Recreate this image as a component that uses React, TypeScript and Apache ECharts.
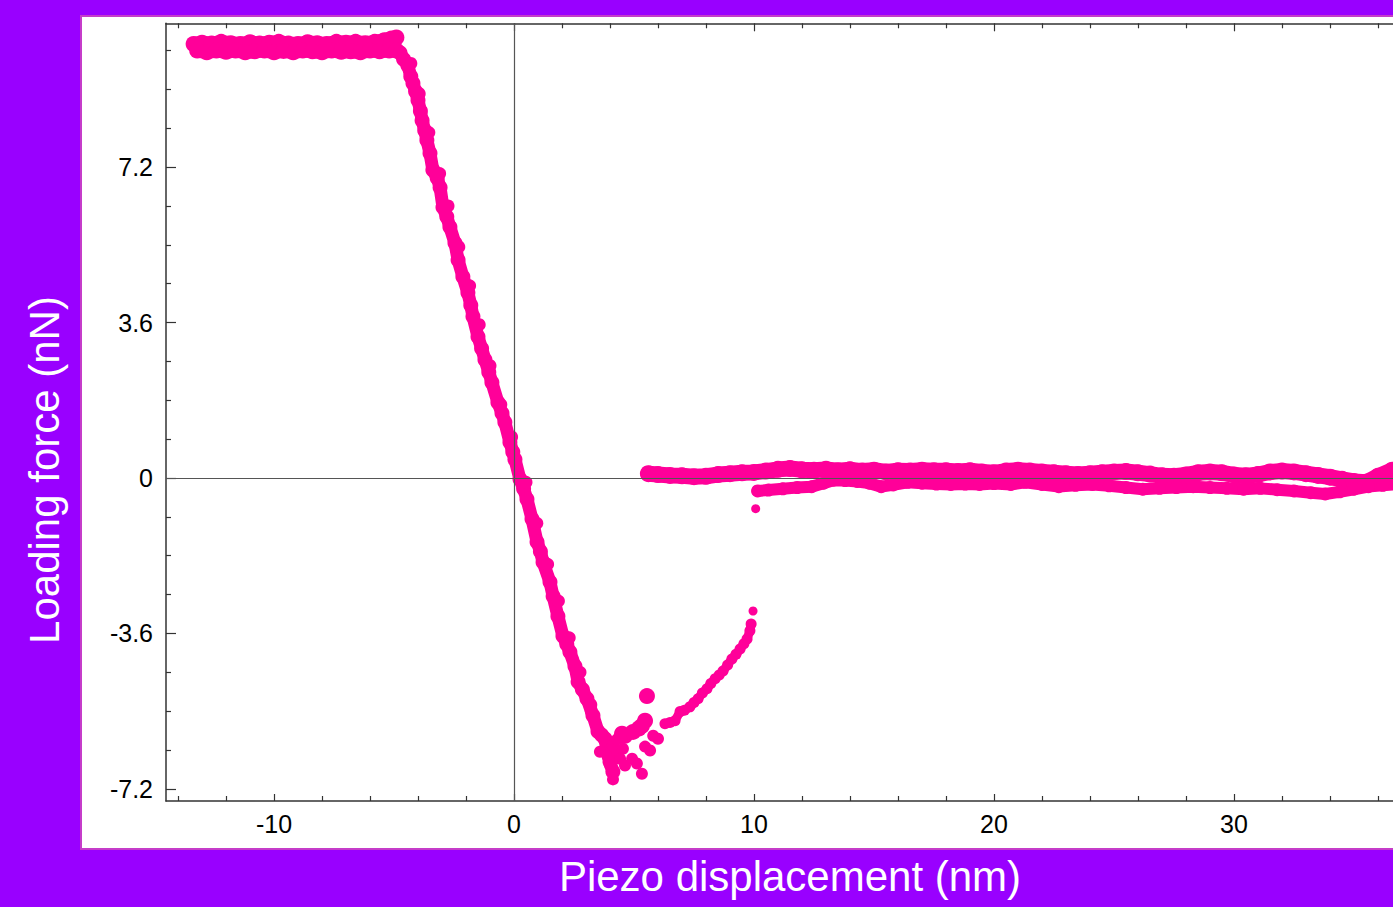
import React, { useEffect, useRef } from "react";
import * as echarts from "echarts";

// ---- axis ticks / labels ----
const xLabelValues = [-10, 0, 10, 20, 30];
const xMinorTicks = [-14, -12, -8, -6, -4, -2, 2, 4, 6, 8, 12, 14, 16, 18, 22, 24, 26, 28, 32, 34, 36];
const yLabelValues = [-7.2, -3.6, 0, 3.6, 7.2];
const yMinorTicks = [-6.3, -5.4, -4.5, -2.7, -1.8, -0.9, 0.9, 1.8, 2.7, 4.5, 5.4, 6.3, 8.1, 9.0, 9.9];

// ---- data (piezo displacement nm, loading force nN) ----
const flatUpper = [
  [-13.35, 10.05], [-13.0, 10.08], [-12.6, 10.06], [-12.2, 10.1], [-11.8, 10.07], [-11.4, 10.05],
  [-11.0, 10.09], [-10.6, 10.06], [-10.2, 10.08], [-9.8, 10.1], [-9.4, 10.06], [-9.0, 10.05],
  [-8.6, 10.09], [-8.2, 10.07], [-7.8, 10.05], [-7.4, 10.1], [-7.0, 10.08], [-6.6, 10.1],
  [-6.2, 10.07], [-5.8, 10.1], [-5.4, 10.14], [-5.1, 10.18], [-4.9, 10.2],
];
const flatLower = [
  [-13.2, 9.9], [-12.8, 9.86], [-12.4, 9.9], [-12.0, 9.87], [-11.6, 9.9], [-11.2, 9.86],
  [-10.8, 9.88], [-10.4, 9.9], [-10.0, 9.86], [-9.6, 9.89], [-9.2, 9.86], [-8.8, 9.9],
  [-8.4, 9.88], [-8.0, 9.86], [-7.6, 9.9], [-7.2, 9.87], [-6.8, 9.88], [-6.4, 9.86],
  [-6.0, 9.9], [-5.6, 9.88], [-5.2, 9.9], [-4.9, 9.9],
];
const descent = [
  [-4.75, 9.85], [-4.6, 9.7], [-4.42, 9.55], [-4.3, 9.3], [-4.21, 9.14], [-4.1, 8.95], [-4.0, 8.75],
  [-3.9, 8.5], [-3.83, 8.28], [-3.72, 8.05], [-3.63, 7.82], [-3.5, 7.52], [-3.38, 7.13], [-3.2, 6.95],
  [-3.08, 6.73], [-2.96, 6.27], [-2.8, 6.05], [-2.67, 5.81], [-2.46, 5.44], [-2.33, 5.05], [-2.13, 4.66],
  [-1.92, 4.29], [-1.8, 4.0], [-1.71, 3.74], [-1.5, 3.27], [-1.35, 3.0], [-1.21, 2.74], [-1.05, 2.45],
  [-0.92, 2.21], [-0.67, 1.75], [-0.5, 1.5], [-0.38, 1.29], [-0.17, 0.83], [-0.05, 0.6], [0.04, 0.43],
  [0.25, -0.03], [0.4, -0.25], [0.54, -0.49], [0.75, -0.95], [0.96, -1.48], [1.1, -1.7], [1.21, -1.95],
  [1.5, -2.41], [1.63, -2.74], [1.83, -3.2], [2.04, -3.66], [2.2, -3.85], [2.33, -4.03], [2.54, -4.36],
  [2.67, -4.72], [2.85, -4.9], [3.04, -5.11], [3.29, -5.5], [3.5, -5.87], [3.65, -5.95], [3.79, -6.04],
  [3.88, -6.34], [4.0, -6.57], [4.12, -6.8],
];
// scattered points along the descent that widen the band
const descentEdge = [
  [-4.3, 9.6], [-3.95, 8.9], [-3.55, 8.0], [-3.1, 7.05], [-2.75, 6.3], [-2.3, 5.35], [-1.85, 4.45],
  [-1.45, 3.55], [-1.0, 2.6], [-0.55, 1.7], [-0.1, 0.95], [0.5, -0.1], [0.95, -1.05], [1.4, -2.0],
  [1.85, -2.85], [2.3, -3.7], [2.75, -4.5], [3.2, -5.25],
];
const minCluster = [
  [3.58, -6.34], [3.9, -6.45], [4.0, -6.66], [4.125, -6.98], [4.29, -6.31], [4.42, -6.5], [4.54, -6.27],
  [4.625, -6.66], [4.92, -6.5], [5.12, -6.61], [5.33, -6.85], [5.46, -6.22], [5.67, -6.31], [4.1, -6.2],
  [4.3, -6.05], [5.8, -5.97], [6.0, -6.04], [3.2, -5.4], [2.9, -4.95], [2.45, -4.2],
];
const retractStart = [[4.5, -5.92], [4.625, -5.97], [4.96, -5.88], [5.2, -5.8], [5.33, -5.74], [5.46, -5.62]];
const retract = [
  [6.29, -5.69], [6.5, -5.66], [6.71, -5.62], [6.92, -5.41], [7.1, -5.38], [7.33, -5.3], [7.5, -5.2],
  [7.67, -5.11], [7.85, -4.98], [8.04, -4.88], [8.2, -4.76], [8.38, -4.65], [8.55, -4.56], [8.71, -4.47],
  [8.9, -4.33], [9.08, -4.19], [9.25, -4.08], [9.42, -3.96], [9.58, -3.84], [9.71, -3.73], [9.83, -3.54],
  [9.88, -3.38],
];
const isolatedSmall = [[9.96, -3.08], [10.07, -0.71]];
const isolatedBig = [[5.54, -5.05]];
const baselineUpper = [
  [5.6, 0.1], [6.0, 0.08], [6.5, 0.06], [7.0, 0.05], [7.5, 0.03], [8.0, 0.04], [8.5, 0.08], [9.0, 0.1],
  [9.5, 0.12], [10.0, 0.13], [10.5, 0.16], [11.0, 0.2], [11.5, 0.22], [12.0, 0.19], [12.5, 0.18],
  [13.0, 0.2], [13.5, 0.17], [14.0, 0.19], [14.5, 0.16], [15, 0.18], [15.5, 0.14], [16, 0.17],
  [16.5, 0.16], [17, 0.18], [17.5, 0.17], [18, 0.17], [18.5, 0.15], [19, 0.17], [19.5, 0.14],
  [20, 0.12], [20.5, 0.16], [21, 0.18], [21.5, 0.16], [22, 0.14], [22.5, 0.12], [23, 0.1], [23.5, 0.08],
  [24, 0.1], [24.5, 0.12], [25, 0.14], [25.5, 0.15], [26, 0.12], [26.5, 0.09], [27, 0.05], [27.5, 0.04],
  [28, 0.07], [28.5, 0.12], [29, 0.14], [29.5, 0.12], [30, 0.07], [30.5, 0.05], [31, 0.08], [31.5, 0.14],
  [32, 0.16], [32.5, 0.14], [33, 0.1], [33.5, 0.06], [34, 0.02], [34.5, -0.03], [35, -0.08],
  [35.5, -0.1], [36, 0.04], [36.6, 0.18],
];
const baselineLower = [
  [10.15, -0.3], [10.6, -0.28], [11.2, -0.25], [11.8, -0.22], [12.4, -0.2], [12.9, -0.12], [13.3, -0.05],
  [13.8, -0.06], [14.3, -0.08], [14.8, -0.12], [15.3, -0.2], [15.8, -0.16], [16.4, -0.1], [17, -0.12],
  [17.6, -0.14], [18.2, -0.15], [18.8, -0.14], [19.4, -0.15], [20, -0.13], [20.7, -0.15], [21.3, -0.1],
  [22, -0.15], [22.7, -0.2], [23.4, -0.17], [24.1, -0.15], [24.8, -0.18], [25.5, -0.22], [26.2, -0.26],
  [26.9, -0.24], [27.6, -0.22], [28.3, -0.2], [29, -0.22], [29.7, -0.24], [30.4, -0.26], [31.1, -0.24],
  [31.8, -0.27], [32.5, -0.3], [33.2, -0.34], [33.8, -0.37], [34.4, -0.32], [35, -0.26], [35.6, -0.2],
  [36.2, -0.17], [36.7, -0.15],
];

const PINK = "#FF0099";
const AXIS = "#333333";
const FONT = "Liberation Sans, Arial, sans-serif";
const X_MIN = -14.5;
const X_MAX = 36.625;
const Y_MIN = -7.48;
const Y_MAX = 10.53;

const fmt = (v: number) => String(Math.round(v * 10) / 10);

function bandSeries(data: number[][], symbolSize: number, width: number) {
  return {
    type: "line",
    data,
    symbol: "circle",
    symbolSize,
    showSymbol: true,
    showAllSymbol: true,
    clip: true,
    silent: true,
    z: 3,
    itemStyle: { color: PINK, borderWidth: 0 },
    lineStyle: { color: PINK, width, cap: "round", join: "round" },
    emphasis: { disabled: true },
  };
}
function dotSeries(data: number[][], symbolSize: number) {
  return {
    type: "scatter",
    data,
    symbol: "circle",
    symbolSize,
    silent: true,
    z: 3,
    itemStyle: { color: PINK, opacity: 1 },
    emphasis: { disabled: true },
  };
}

function xAxisDef(position: string, ticks: number[], len: number, showLine: boolean, showLabel: boolean) {
  return {
    type: "value",
    position,
    min: X_MIN,
    max: X_MAX,
    axisLine: { show: showLine, onZero: false, lineStyle: { color: AXIS, width: 1.5 } },
    axisTick: { show: true, inside: true, length: len, customValues: ticks, lineStyle: { color: AXIS, width: 1.2 } },
    axisLabel: showLabel
      ? { show: true, customValues: xLabelValues, margin: 10, color: "#000", fontSize: 25, fontFamily: FONT, formatter: fmt }
      : { show: false },
    splitLine: { show: false },
  };
}
function yAxisDef(ticks: number[], len: number, showLine: boolean, showLabel: boolean) {
  return {
    type: "value",
    position: "left",
    min: Y_MIN,
    max: Y_MAX,
    axisLine: { show: showLine, onZero: false, lineStyle: { color: AXIS, width: 1.5 } },
    axisTick: { show: true, inside: true, length: len, customValues: ticks, lineStyle: { color: AXIS, width: 1.2 } },
    axisLabel: showLabel
      ? { show: true, customValues: yLabelValues, margin: 13, color: "#000", fontSize: 25, fontFamily: FONT, formatter: fmt }
      : { show: false },
    splitLine: { show: false },
  };
}

export default function App() {
  const ref = useRef<HTMLDivElement>(null);
  useEffect(() => {
    if (!ref.current) return;
    const chart = echarts.init(ref.current, null, { renderer: "svg" });
    chart.setOption({
      animation: false,
      backgroundColor: "#9900FF",
      grid: { left: 166, top: 23.3, right: 0, bottom: 106, containLabel: false },
      xAxis: [
        xAxisDef("bottom", xLabelValues, 7, true, true),
        xAxisDef("bottom", xMinorTicks, 5, false, false),
        xAxisDef("top", xLabelValues, 8, true, false),
        xAxisDef("top", xMinorTicks, 5, false, false),
      ],
      yAxis: [yAxisDef(yLabelValues, 10, true, true), yAxisDef(yMinorTicks, 5, false, false)],
      graphic: [
        {
          type: "rect",
          z: -10,
          shape: { x: 81, y: 16, width: 1330, height: 833 },
          style: { fill: "#FFFFFF", stroke: "#C53CC9", lineWidth: 2 },
        },
        {
          type: "text",
          z: 10,
          x: 44,
          y: 470,
          rotation: Math.PI / 2,
          style: { text: "Loading force (nN)", fill: "#FFFFFF", font: `42px ${FONT}`, align: "center", verticalAlign: "middle" },
        },
        {
          type: "text",
          z: 10,
          x: 790,
          y: 876,
          style: { text: "Piezo displacement (nm)", fill: "#FFFFFF", font: `42px ${FONT}`, align: "center", verticalAlign: "middle" },
        },
      ],
      series: [
        {
          type: "scatter",
          data: [],
          z: 1,
          silent: true,
          markLine: {
            silent: true,
            symbol: "none",
            label: { show: false },
            lineStyle: { color: "#555555", width: 1.2, type: "solid" },
            data: [{ xAxis: 0 }, { yAxis: 0 }],
          },
        },
        bandSeries(flatUpper, 16, 14),
        bandSeries(flatLower, 16, 14),
        bandSeries(descent, 15, 13),
        dotSeries(descentEdge, 13),
        dotSeries(minCluster, 12),
        dotSeries(retractStart, 16),
        bandSeries(retract, 11, 9),
        dotSeries(isolatedSmall, 9),
        dotSeries(isolatedBig, 16),
        bandSeries(baselineUpper, 17, 16),
        bandSeries(baselineLower, 13, 12),
      ],
    });
    return () => chart.dispose();
  }, []);
  return <div ref={ref} style={{ position: "absolute", left: 0, top: 0, width: 1393, height: 907 }} />;
}
